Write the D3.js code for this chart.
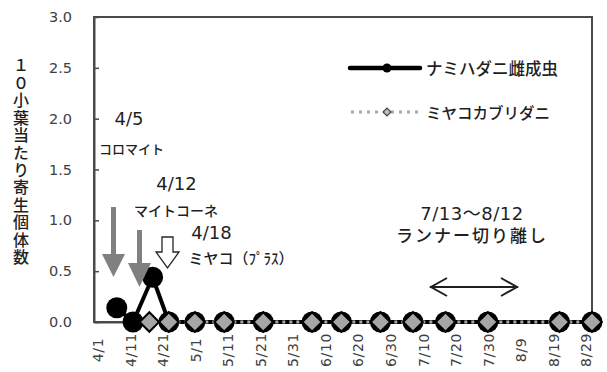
<!DOCTYPE html>
<html><head><meta charset="utf-8">
<script src="https://cdn.jsdelivr.net/npm/d3@7"></script>
<style>
html,body{margin:0;padding:0;background:#fff;}
svg{display:block;}
</style></head>
<body>
<svg id="chart" width="607" height="372"></svg>
<script>
// ---- data ----
const year = 2015;
const xTickLabels = ["4/1","4/11","4/21","5/1","5/11","5/21","5/31","6/10","6/20","6/30","7/10","7/20","7/30","8/9","8/19","8/29"];
const yTicks = [0, 0.5, 1.0, 1.5, 2.0, 2.5, 3.0];
const namiDates = ["4/7","4/12","4/18","4/23","5/1","5/10","5/22","6/6","6/15","6/27","7/7","7/17","7/30","8/21","8/31"];
const namiValues = [0.14, 0.0, 0.44, 0, 0, 0, 0, 0, 0, 0, 0, 0, 0, 0, 0];
const miyakoDates = ["4/17","4/23","5/1","5/10","5/22","6/6","6/15","6/27","7/7","7/17","7/30","8/21","8/31"];
const miyakoValues = [0, 0, 0, 0, 0, 0, 0, 0, 0, 0, 0, 0, 0];
const seriesNames = ["ナミハダニ雌成虫", "ミヤコカブリダニ"];
const yTitle = "１０小葉当たり寄生個体数";

const parse = s => { const [m,d] = s.split("/").map(Number); return new Date(year, m-1, d); };

const svg = d3.select("#chart");
const L = 94, R = 592, T = 17, B = 322;
const x = d3.scaleTime().domain([new Date(year,2,31), new Date(year,7,31)]).range([L, R]);
const y = d3.scaleLinear().domain([0, 3]).range([B, T]);

const numFont = "'DejaVu Sans', sans-serif";
const jpFont = "'Noto Sans CJK JP', sans-serif";
const axisCol = "#404040";
const textCol = "#1f1f1f";

// plot border
svg.append("rect").attr("x", L).attr("y", T).attr("width", R-L).attr("height", B-T)
  .attr("fill", "none").attr("stroke", "#4a4a4a").attr("stroke-width", 2);

// y axis
const yAxis = svg.append("g").attr("transform", `translate(${L},0)`)
  .call(d3.axisLeft(y).tickValues(yTicks).tickFormat(d3.format(".1f")).tickSizeInner(-5).tickSizeOuter(0).tickPadding(22));
yAxis.select(".domain").attr("stroke", "#4a4a4a").attr("stroke-width", 2);
yAxis.selectAll(".tick line").attr("stroke", "#4a4a4a").attr("stroke-width", 1.5);
yAxis.selectAll("text").attr("font-family", numFont).attr("font-size", 14.5).attr("fill", axisCol);

// x axis
const xAxis = svg.append("g").attr("transform", `translate(0,${B})`)
  .call(d3.axisBottom(x).tickValues(xTickLabels.map(parse)).tickFormat((d,i) => xTickLabels[i]).tickSize(0));
xAxis.select(".domain").attr("stroke", "#4a4a4a").attr("stroke-width", 2);
xAxis.selectAll("text")
  .attr("transform", "rotate(-90)").attr("x", -28).attr("y", 0).attr("dy", "0.38em")
  .attr("text-anchor", "middle")
  .attr("font-family", numFont).attr("font-size", 14).attr("letter-spacing", 0.6).attr("fill", axisCol);

// y title (vertical, upright characters)
svg.append("text").attr("x", 21).attr("y", 162)
  .attr("text-anchor", "middle")
  .style("writing-mode", "vertical-rl").style("text-orientation", "upright")
  .attr("font-family", jpFont).attr("font-size", 16).attr("font-weight", 500)
  .attr("letter-spacing", 1.4).attr("fill", textCol).text(yTitle);

// series: nami (black)
const nami = namiDates.map((d,i) => ({date: parse(d), v: namiValues[i]}));
const miyako = miyakoDates.map((d,i) => ({date: parse(d), v: miyakoValues[i]}));
const line = d3.line().x(d => x(d.date)).y(d => y(d.v));

svg.append("path").datum(nami).attr("d", line).attr("fill", "none")
  .attr("stroke", "#000").attr("stroke-width", 4).attr("stroke-linejoin", "round");
svg.append("g").selectAll("circle").data(nami).join("circle")
  .attr("cx", d => x(d.date)).attr("cy", d => y(d.v)).attr("r", 10.5).attr("fill", "#000");

// series: miyako (gray dotted + diamonds)
svg.append("path").datum(miyako).attr("d", line).attr("fill", "none")
  .attr("stroke", "#a6a6a6").attr("stroke-width", 3).attr("stroke-dasharray", "3,4");
svg.append("g").selectAll("path").data(miyako).join("path")
  .attr("transform", d => `translate(${x(d.date)},${y(d.v)}) rotate(45)`)
  .attr("d", d3.symbol().type(d3.symbolSquare).size(190))
  .attr("fill", "#a6a6a6").attr("stroke", "#000").attr("stroke-width", 2);

// legend
const lg = svg.append("g");
lg.append("line").attr("x1", 350).attr("x2", 420).attr("y1", 68).attr("y2", 68)
  .attr("stroke", "#000").attr("stroke-width", 4.5).attr("stroke-linecap", "round");
lg.append("circle").attr("cx", 387).attr("cy", 68).attr("r", 4.5).attr("fill", "#000");
lg.append("text").attr("x", 426).attr("y", 68).attr("dominant-baseline", "central")
  .attr("font-family", jpFont).attr("font-size", 16.5).attr("font-weight", 500).attr("fill", textCol).text(seriesNames[0]);
lg.append("line").attr("x1", 351).attr("x2", 420).attr("y1", 112).attr("y2", 112)
  .attr("stroke", "#a6a6a6").attr("stroke-width", 3).attr("stroke-dasharray", "3,5");
lg.append("path").attr("transform", "translate(387,112) rotate(45)")
  .attr("d", d3.symbol().type(d3.symbolSquare).size(30))
  .attr("fill", "#bfbfbf").attr("stroke", "#404040").attr("stroke-width", 1.2);
lg.append("text").attr("x", 426).attr("y", 112).attr("dominant-baseline", "central")
  .attr("font-family", jpFont).attr("font-size", 15.5).attr("font-weight", 500).attr("fill", textCol).text(seriesNames[1]);

// annotations
function arrow(cx, top, tip, shaftW, headW, headL, fill, stroke) {
  const s = shaftW/2, h = headW/2, hy = tip - headL;
  const p = `M${cx-s},${top} L${cx+s},${top} L${cx+s},${hy} L${cx+h},${hy} L${cx},${tip} L${cx-h},${hy} L${cx-s},${hy} Z`;
  svg.append("path").attr("d", p).attr("fill", fill).attr("stroke", stroke || "none").attr("stroke-width", stroke ? 1.3 : 0);
}
arrow(113.5, 207, 277, 5, 23, 23, "#808080");
arrow(139.5, 230, 287, 5, 23, 24, "#808080");
arrow(167.5, 237, 268, 11, 23, 16, "#fff", "#262626");

function label(txt, cx, cy, size, font, ls) {
  svg.append("text").attr("x", cx).attr("y", cy).attr("text-anchor", "middle")
    .attr("dominant-baseline", "central").attr("font-family", font).attr("font-size", size)
    .attr("font-weight", font === jpFont ? 500 : 400)
    .attr("letter-spacing", ls || 0).attr("fill", textCol).text(txt);
}
label("4/5", 129, 118, 18, numFont);
label("コロマイト", 131.5, 148, 13, jpFont);
label("4/12", 176.5, 183, 18, numFont);
label("マイトコーネ", 176, 210, 14, jpFont);
label("4/18", 211.5, 232, 18, numFont);
label("ミヤコ（ﾌﾟﾗｽ）", 241, 257, 15, jpFont);
label("7/13〜8/12", 472, 213, 18, "'DejaVu Sans', 'Noto Sans CJK JP', sans-serif", 0.5);
label("ランナー切り離し", 472, 234, 17, jpFont, 2);

// double-headed arrow
const da = svg.append("g").attr("stroke", textCol).attr("stroke-width", 2).attr("fill", "none");
da.append("line").attr("x1", 430).attr("x2", 518).attr("y1", 287).attr("y2", 287);
da.append("path").attr("d", "M447,278 L431,287 L447,296");
da.append("path").attr("d", "M501,278 L517,287 L501,296");
</script>
</body></html>
